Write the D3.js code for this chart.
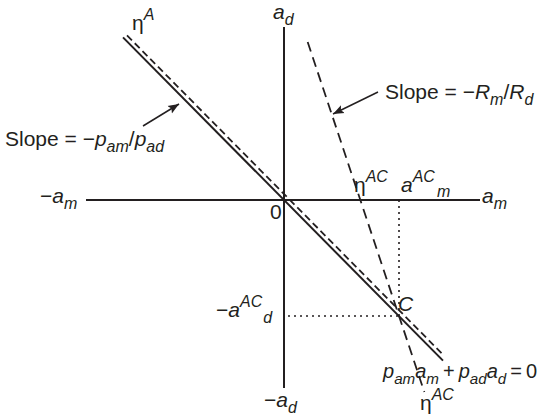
<!DOCTYPE html>
<html><head><meta charset="utf-8">
<script src="https://cdn.jsdelivr.net/npm/d3@7"></script>
<style>body{margin:0;background:#fff}text{font-family:"Liberation Sans",Arial,sans-serif;fill:#231f20}</style>
</head><body><svg id="c" width="550" height="416"></svg>
<script>
// ---- data ----
const amAxisExtent = [-9.9, 9.8];
const adAxisExtent = [-9.4, 8.65];
const budgetSlope = -1.01;           // -p_am/p_ad
const budgetAmExtent = [-8.05, 7.95];
const etaAOffset = 0.3;
const etaAAmExtent = [-7.85, 8.0];
const pointC = [5.75, -5.8];
const etaACSlope = -3.0;              // -R_m/R_d
const etaACAdExtent = [7.9, -9.6];

const svg = d3.select("#c");
const x = d3.scaleLinear().domain([-10, 10]).range([84, 484]);
const y = d3.scaleLinear().domain([-10, 10]).range([400, 0]);
const ink = "#231f20";
const line = d3.line().x(d => x(d[0])).y(d => y(d[1]));

svg.append("defs").append("marker").attr("id","ah").attr("viewBox","0 0 10 10")
  .attr("refX",10).attr("refY",5).attr("markerWidth",11).attr("markerHeight",11)
  .attr("markerUnits","userSpaceOnUse").attr("orient","auto")
  .append("path").attr("d","M0,1 L10,5 L0,9 L2,5 Z").attr("fill",ink);

// axes
svg.append("path").attr("d", line([[amAxisExtent[0],0],[amAxisExtent[1],0]])).attr("stroke",ink).attr("stroke-width",2);
svg.append("path").attr("d", line([[0,adAxisExtent[1]],[0,adAxisExtent[0]]])).attr("stroke",ink).attr("stroke-width",2);

// budget line (solid)
svg.append("path").attr("d", line(budgetAmExtent.map(a => [a, budgetSlope*a])))
  .attr("stroke",ink).attr("stroke-width",2).attr("fill","none");
// eta^A (dashed, parallel)
svg.append("path").attr("d", line(etaAAmExtent.map(a => [a, budgetSlope*a + etaAOffset])))
  .attr("stroke",ink).attr("stroke-width",1.8).attr("stroke-dasharray","7,4").attr("fill","none");
// eta^AC (steep dashed)
svg.append("path").attr("d", line(etaACAdExtent.map(d => [pointC[0] + (d - pointC[1])/etaACSlope, d])))
  .attr("stroke",ink).attr("stroke-width",1.8).attr("stroke-dasharray","10,6").attr("fill","none");
// dotted projections
svg.append("path").attr("d", line([[pointC[0],0],[pointC[0],pointC[1]]]))
  .attr("stroke",ink).attr("stroke-width",1.6).attr("stroke-dasharray","2,4");
svg.append("path").attr("d", line([[0.2,pointC[1]],[pointC[0],pointC[1]]]))
  .attr("stroke",ink).attr("stroke-width",1.6).attr("stroke-dasharray","2,4");

// arrows
svg.append("line").attr("x1",143).attr("y1",126).attr("x2",179).attr("y2",104)
  .attr("stroke",ink).attr("stroke-width",1.5).attr("marker-end","url(#ah)");
svg.append("line").attr("x1",378).attr("y1",92).attr("x2",333).attr("y2",114)
  .attr("stroke",ink).attr("stroke-width",1.5).attr("marker-end","url(#ah)");

// text helper: parts = [text, style, dy, dx]
const FS = 21, SS = 16;
function label(px, py, parts, fs){
  const t = svg.append("text").attr("x",px).attr("y",py).attr("font-size",fs || FS);
  parts.forEach(p => {
    const s = t.append("tspan").text(p[0]);
    if (p[1].includes("i")) s.attr("font-style","italic");
    if (p[1].includes("s")) s.attr("font-size",(fs ? fs*0.76 : SS));
    if (p[2]) s.attr("dy",p[2]);
    if (p[3] !== undefined) s.attr("dx",p[3]);
  });
  return t;
}
label(132, 30, [["η",""],["A","is",-10]]);
label(273, 19, [["a","i"],["d","is",6]]);
label(385, 99, [["Slope = −",""],["R","i"],["m","is",6],["/","",-6],["R","i"],["d","is",6]]);
label(5, 146, [["Slope = −",""],["p","i"],["am","is",6],["/","",-6],["p","i"],["ad","is",6]]);
label(40, 203, [["−",""],["a","i"],["m","is",6]]);
label(270, 219, [["0",""]]);
label(354, 192, [["η",""],["AC","is",-10]]);
label(401, 192, [["a","i"],["AC","is",-10],["m","is",15,2]]);
label(482, 203, [["a","i"],["m","is",6]]);
label(216, 317, [["−",""],["a","i"],["AC","is",-10],["d","is",16,1]]);
label(398, 311, [["C","i"]]);
label(383, 378, [["p","i"],["am","is",6],["a","i",-6],["m","is",6],["\u2009+\u2009","",-6],["p","i"],["ad","is",6],["a","i",-6],["d","is",6],["\u2009=\u20090","",-6]], 20);
label(420, 410, [["η",""],["AC","is",-10]]);
label(264, 407, [["−",""],["a","i"],["d","is",6]]);
</script></body></html>
